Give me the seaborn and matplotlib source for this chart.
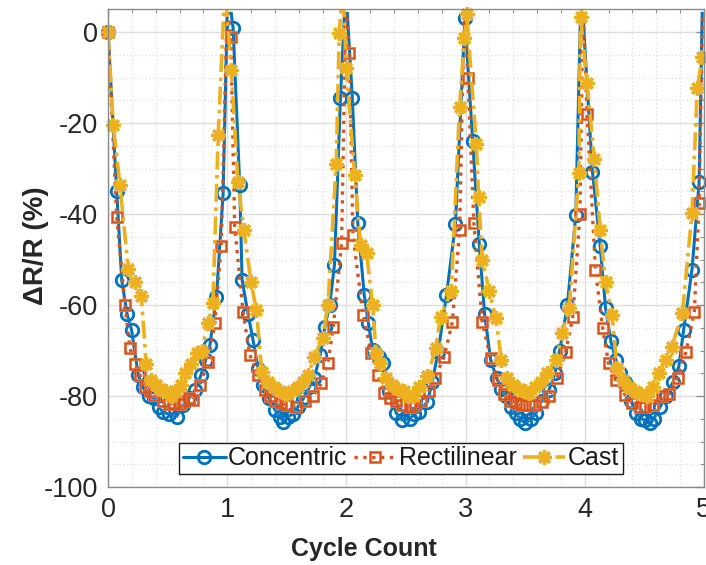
import numpy as np
import pandas as pd
import matplotlib
matplotlib.use("Agg")
import matplotlib.pyplot as plt
from matplotlib.ticker import MultipleLocator
from matplotlib.lines import Line2D
import seaborn as sns

# ---------------- data ----------------
conc_x = [0.000, 0.073, 0.115, 0.160, 0.198, 0.254, 0.290, 0.340, 0.390, 0.430, 0.460, 0.510,
          0.575, 0.630, 0.680, 0.730, 0.780, 0.820, 0.855, 0.910, 0.966, 1.005, 1.050, 1.105,
          1.125, 1.175, 1.217, 1.260, 1.300, 1.350, 1.400, 1.440, 1.470, 1.510, 1.550, 1.590,
          1.640, 1.690, 1.730, 1.780, 1.820, 1.860, 1.900, 1.950, 1.995, 2.050, 2.096, 2.150,
          2.185, 2.220, 2.270, 2.310, 2.360, 2.420, 2.470, 2.530, 2.570, 2.610, 2.680, 2.720,
          2.770, 2.840, 2.915, 2.995, 3.060, 3.115, 3.160, 3.210, 3.260, 3.300, 3.340, 3.380,
          3.420, 3.460, 3.500, 3.550, 3.590, 3.640, 3.700, 3.750, 3.790, 3.855, 3.925, 3.970,
          4.065, 4.130, 4.175, 4.220, 4.260, 4.300, 4.340, 4.390, 4.430, 4.470, 4.510, 4.550,
          4.580, 4.630, 4.680, 4.740, 4.790, 4.830, 4.900, 4.960, 4.990]
conc_y = [0.0, -35.0, -54.5, -62.0, -65.5, -75.4, -78.0, -80.0, -80.5, -82.5, -83.5, -84.0,
          -84.5, -82.0, -80.5, -78.7, -75.4, -72.0, -68.8, -58.2, -35.4, 10.0, 0.8, -33.6,
          -54.5, -62.0, -67.7, -74.0, -77.5, -80.5, -83.0, -84.5, -85.6, -84.5, -84.0, -82.5,
          -80.5, -78.0, -76.0, -71.0, -64.8, -60.0, -51.2, -14.6, 10.0, -14.6, -42.0, -57.8,
          -64.0, -69.9, -71.5, -72.8, -79.0, -83.8, -85.3, -85.0, -84.0, -83.4, -81.3, -77.0,
          -70.3, -57.8, -42.2, 3.0, -24.0, -46.5, -62.0, -72.0, -76.0, -78.5, -80.0, -82.5,
          -83.8, -85.0, -86.0, -85.0, -83.8, -81.0, -78.7, -75.0, -70.0, -60.0, -40.2, 10.0,
          -30.7, -47.0, -60.7, -68.0, -72.0, -75.0, -77.0, -81.0, -83.8, -85.0, -85.3, -86.0,
          -85.0, -82.5, -80.0, -77.0, -73.5, -65.5, -52.3, -33.0, 10.0]

rect_x = [0.000, 0.073, 0.142, 0.184, 0.230, 0.268, 0.310, 0.350, 0.390, 0.460, 0.510, 0.550,
          0.600, 0.630, 0.680, 0.715, 0.770, 0.840, 0.896, 0.950, 1.000, 1.030, 1.063, 1.133,
          1.190, 1.260, 1.315, 1.360, 1.400, 1.450, 1.500, 1.580, 1.650, 1.720, 1.790, 1.845,
          1.890, 1.960, 1.995, 2.025, 2.055, 2.140, 2.210, 2.265, 2.320, 2.370, 2.420, 2.470,
          2.530, 2.580, 2.630, 2.690, 2.740, 2.820, 2.890, 2.950, 2.990, 3.020, 3.070, 3.140,
          3.210, 3.270, 3.320, 3.370, 3.420, 3.470, 3.530, 3.580, 3.640, 3.700, 3.770, 3.840,
          3.900, 3.960, 3.985, 4.020, 4.090, 4.150, 4.200, 4.260, 4.340, 4.400, 4.460, 4.510,
          4.570, 4.650, 4.710, 4.780, 4.850, 4.920, 4.960, 4.990]
rect_y = [0.0, -40.6, -60.0, -69.5, -73.0, -75.4, -78.0, -79.0, -79.8, -81.2, -81.8, -81.5,
          -81.8, -81.0, -80.5, -80.9, -77.6, -72.5, -64.0, -47.0, 6.0, -1.0, -42.8, -61.5,
          -71.0, -75.4, -78.7, -80.0, -81.0, -81.5, -82.0, -82.3, -81.2, -80.0, -77.2, -72.8,
          -64.8, -46.4, 6.0, -4.7, -44.6, -62.2, -70.6, -75.4, -79.4, -80.5, -81.2, -82.0,
          -82.3, -82.0, -81.2, -79.0, -76.1, -71.4, -63.7, -43.5, 6.0, -10.2, -42.0, -63.7,
          -71.7, -76.5, -79.5, -81.0, -81.6, -82.0, -82.0, -82.0, -81.3, -80.1, -76.0, -70.3,
          -62.6, -40.0, 6.0, -17.9, -52.3, -65.0, -72.8, -76.5, -79.8, -81.5, -82.3, -82.5,
          -82.0, -80.1, -79.5, -76.1, -70.3, -61.5, -37.6, 6.0]

cast_x = [0.000, 0.044, 0.100, 0.170, 0.226, 0.280, 0.320, 0.360, 0.400, 0.440, 0.490, 0.530,
          0.570, 0.610, 0.645, 0.700, 0.745, 0.785, 0.840, 0.880, 0.925, 0.980, 1.035, 1.090,
          1.140, 1.200, 1.245, 1.290, 1.340, 1.390, 1.440, 1.490, 1.540, 1.590, 1.640, 1.680,
          1.730, 1.800, 1.845, 1.915, 1.940, 1.970, 2.000, 2.070, 2.120, 2.170, 2.220, 2.250,
          2.280, 2.330, 2.380, 2.430, 2.480, 2.520, 2.560, 2.610, 2.680, 2.750, 2.790, 2.880,
          2.950, 2.990, 3.010, 3.090, 3.110, 3.140, 3.200, 3.255, 3.300, 3.350, 3.400, 3.450,
          3.500, 3.530, 3.580, 3.630, 3.680, 3.760, 3.810, 3.870, 3.950, 3.965, 4.020, 4.080,
          4.130, 4.175, 4.230, 4.270, 4.320, 4.370, 4.420, 4.470, 4.520, 4.570, 4.620, 4.680,
          4.730, 4.820, 4.900, 4.945, 4.985]
cast_y = [0.0, -20.4, -33.6, -52.0, -55.0, -58.0, -73.0, -76.5, -77.5, -78.5, -79.0, -80.0,
          -79.0, -77.5, -75.0, -73.0, -70.5, -70.0, -64.0, -59.6, -22.6, 10.0, -8.4, -32.9,
          -43.5, -55.0, -61.0, -74.7, -77.0, -78.0, -79.0, -79.5, -79.0, -78.0, -77.0, -75.4,
          -71.4, -67.3, -60.0, -28.9, -0.3, 10.0, -8.0, -31.4, -46.8, -48.6, -60.0, -70.6,
          -72.8, -76.0, -77.5, -78.5, -79.0, -80.0, -80.0, -78.0, -75.7, -69.5, -62.6, -57.0,
          -16.4, -1.4, 4.0, -24.5, -36.2, -50.0, -57.0, -62.9, -72.0, -76.0, -77.5, -78.5,
          -79.0, -79.4, -78.0, -77.0, -75.0, -72.0, -66.2, -60.7, -31.0, 3.4, -11.3, -27.8,
          -43.5, -55.0, -62.2, -73.9, -76.5, -78.0, -79.0, -79.5, -80.0, -78.0, -75.0, -72.0,
          -69.2, -61.8, -39.8, -12.4, -5.4]

series_names = ["Concentric", "Rectilinear", "Cast"]
x_ticks = [0, 1, 2, 3, 4, 5]
y_ticks = [-100, -80, -60, -40, -20, 0]

# ---------------- styling ----------------
sns.set_style("white")
plt.rcParams["font.family"] = ["Liberation Sans", "DejaVu Sans"]
plt.rcParams["axes.unicode_minus"] = False

colors = ["#0072BD", "#D95319", "#EDB120"]
styles = [
    dict(linestyle="-", marker="o", markersize=9, markerfacecolor="none", markeredgewidth=2.0),
    dict(linestyle=":", marker="s", markersize=7.5, markerfacecolor="none", markeredgewidth=1.8),
    dict(linestyle=(0, (5, 1.5, 1, 1.5)), marker=(8, 2, 0), markersize=10.5, markeredgewidth=2.4),
]
lws = [2.2, 2.4, 2.6]

fig = plt.figure(figsize=(7.06, 5.65), dpi=100)
ax = fig.add_axes([0.153, 0.138, 0.844, 0.8455])

data = [(conc_x, conc_y), (rect_x, rect_y), (cast_x, cast_y)]
XMIN, XMAX, YMIN, YMAX = 0, 5, -100, 5
handles = []
for (xs, ys), name, col, st, lw in zip(data, series_names, colors, styles, lws):
    df = pd.DataFrame({"x": xs, "y": ys})
    sns.lineplot(data=df, x="x", y="y", ax=ax, sort=False, estimator=None,
                 color=col, linewidth=lw, legend=False, **st)
    # markers whose centre lies inside the axes are drawn whole (MATLAB style)
    inside = df[(df.x >= XMIN) & (df.x <= XMAX) & (df.y >= YMIN) & (df.y <= YMAX)]
    ax.plot(inside.x, inside.y, linestyle="none", color=col,
            marker=st["marker"], markersize=st["markersize"],
            markerfacecolor=st.get("markerfacecolor", col),
            markeredgewidth=st["markeredgewidth"], clip_on=False)
    handles.append(Line2D([], [], color=col, linewidth=lw, label=name, **st))

ax.set_xlim(XMIN, XMAX)
ax.set_ylim(YMIN, YMAX)
ax.set_xticks(x_ticks)
ax.set_yticks(y_ticks)
ax.xaxis.set_minor_locator(MultipleLocator(0.2))
ax.yaxis.set_minor_locator(MultipleLocator(5))

ax.grid(which="major", color="#dedede", linewidth=1.0, linestyle="-")
ax.grid(which="minor", color="#e2e2e2", linewidth=1.0, linestyle=":")
ax.set_axisbelow(True)

for sp in ax.spines.values():
    sp.set_visible(True)
    sp.set_color("#8a8a8a")
    sp.set_linewidth(1.0)

ax.tick_params(which="major", direction="in", length=6, width=0.9, color="#8a8a8a",
               top=True, right=True, labelsize=19.5, labelcolor="#262626", pad=7)
ax.tick_params(which="minor", direction="in", length=3, width=0.7, color="#8a8a8a",
               top=True, right=True)

ax.set_xlabel("Cycle Count", fontsize=18, fontweight="bold", color="#262626")
ax.set_ylabel("ΔR/R (%)", fontsize=20, fontweight="bold", color="#262626")
ax.xaxis.set_label_coords(0.4295, -0.105)
ax.yaxis.set_label_coords(-0.099, 0.505)

leg = ax.legend(handles=handles, loc="lower center", bbox_to_anchor=(0.492, 0.027), ncol=3,
                fontsize=18, frameon=True, fancybox=False, framealpha=1, edgecolor="#1a1a1a",
                handlelength=1.7, handletextpad=0.1, columnspacing=0.25,
                borderpad=0.15, borderaxespad=0)
leg.get_frame().set_linewidth(1.0)
for t in leg.get_texts():
    t.set_color("#1a1a1a")

fig.savefig("out.png", dpi=100)
